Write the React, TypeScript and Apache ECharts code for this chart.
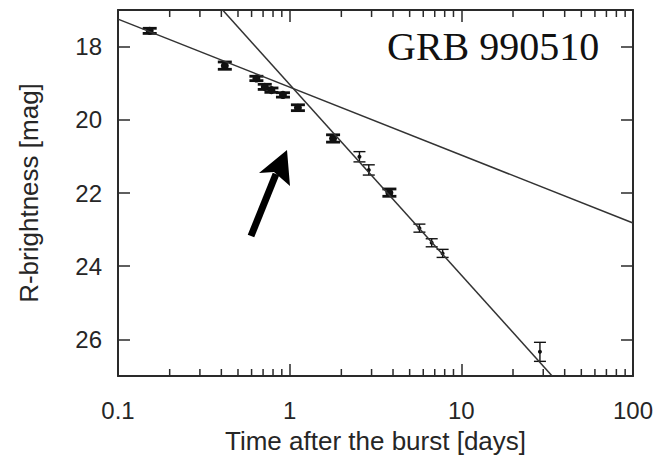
import { useEffect, useRef } from 'react';
import * as echarts from 'echarts';

// ---- data ----
const xMin = 0.1;
const xMax = 100;
const yMin = 17;
const yMax = 27;
const yTickValues = [18, 20, 22, 24, 26];
const xMinorTicks = [0.2, 0.3, 0.4, 0.5, 0.6, 0.7, 0.8, 0.9, 2, 3, 4, 5, 6, 7, 8, 9, 20, 30, 40, 50, 60, 70, 80, 90];

// [time (days), R mag, error (mag)]
const boldPoints = [
  [0.153, 17.57, 0.07],
  [0.419, 18.52, 0.1],
  [0.64, 18.87, 0.06],
  [0.716, 19.1, 0.07],
  [0.783, 19.19, 0.06],
  [0.914, 19.32, 0.06],
  [1.117, 19.67, 0.08],
  [1.79, 20.51, 0.1],
  [3.81, 21.99, 0.1],
];
const thinPoints = [
  [2.55, 21.01, 0.14],
  [2.89, 21.37, 0.14],
  [5.7, 22.96, 0.11],
  [6.72, 23.36, 0.11],
  [7.78, 23.65, 0.11],
  [28.7, 26.34, 0.26],
];

// power-law fits (endpoints)
const fitEarly = [
  [0.1, 17.25],
  [100, 22.82],
];
const fitLate = [
  [0.407, 17.0],
  [33.8, 27.0],
];

const titleText = 'GRB 990510';
const xName = 'Time after the burst [days]';
const yName = 'R-brightness [mag]';

const AX = '#2a2a2a';

function errRender(capHalf: number, lw: number, r: number) {
  return (params: any, api: any) => {
    const x = api.value(0);
    const y = api.value(1);
    const e = api.value(2);
    const p = api.coord([x, y]);
    const t = api.coord([x, y - e]);
    const b = api.coord([x, y + e]);
    const st = { stroke: '#111', lineWidth: lw };
    return {
      type: 'group',
      children: [
        { type: 'line', shape: { x1: p[0], y1: t[1], x2: p[0], y2: b[1] }, style: st },
        { type: 'line', shape: { x1: p[0] - capHalf, y1: t[1], x2: p[0] + capHalf, y2: t[1] }, style: st },
        { type: 'line', shape: { x1: p[0] - capHalf, y1: b[1], x2: p[0] + capHalf, y2: b[1] }, style: st },
        { type: 'circle', shape: { cx: p[0], cy: p[1], r }, style: { fill: '#111' } },
      ],
    };
  };
}

export default function App() {
  const ref = useRef<HTMLDivElement>(null);
  useEffect(() => {
    if (!ref.current) return;
    const chart = echarts.init(ref.current, null, { renderer: 'svg' });
    const axisCommon = {
      type: 'log' as const,
      logBase: 10,
      min: xMin,
      max: xMax,
      axisLine: { show: true, onZero: false, lineStyle: { color: AX, width: 2 } },
      axisTick: { show: true, inside: true, length: 12, lineStyle: { color: AX, width: 1.5 } },
      splitLine: { show: false },
      minorTick: { show: false },
    };
    const yCommon = {
      type: 'value' as const,
      inverse: true,
      min: yMin,
      max: yMax,
      axisLine: { show: true, onZero: false, lineStyle: { color: AX, width: 2 } },
      axisTick: { show: true, inside: true, length: 12, customValues: yTickValues, lineStyle: { color: AX, width: 1.5 } },
      splitLine: { show: false },
    };
    chart.setOption({
      animation: false,
      backgroundColor: '#fff',
      grid: { left: 118, right: 29, top: 10, bottom: 80, containLabel: false, outerBoundsMode: 'none' },
      xAxis: [
        {
          ...axisCommon,
          position: 'bottom',
          axisLabel: {
            color: '#262626',
            fontSize: 24,
            fontFamily: 'Liberation Sans',
            margin: 22,
            formatter: (v: number) => String(v),
          },
          name: xName,
          nameLocation: 'middle',
          nameGap: 52,
          nameTextStyle: { color: '#262626', fontSize: 26, fontFamily: 'Liberation Sans' },
        },
        {
          ...axisCommon,
          position: 'top',
          axisLabel: { show: false },
        },
      ],
      yAxis: [
        {
          ...yCommon,
          position: 'left',
          axisLabel: {
            color: '#262626',
            fontSize: 24,
            fontFamily: 'Liberation Sans',
            margin: 16,
            customValues: yTickValues,
          },
          name: yName,
          nameLocation: 'middle',
          nameGap: 76,
          nameRotate: 90,
          nameTextStyle: { color: '#262626', fontSize: 26, fontFamily: 'Liberation Sans' },
        },
        {
          ...yCommon,
          position: 'right',
          axisLabel: { show: false },
        },
      ],
      series: [
        {
          type: 'line',
          data: fitEarly,
          symbol: 'none',
          lineStyle: { color: '#333', width: 1.5 },
          clip: true,
          silent: true,
        },
        {
          type: 'line',
          data: fitLate,
          symbol: 'none',
          lineStyle: { color: '#333', width: 1.5 },
          clip: true,
          silent: true,
        },
        {
          type: 'custom',
          data: boldPoints,
          encode: { x: 0, y: 1 },
          renderItem: errRender(7, 2.8, 4),
          clip: false,
        },
        {
          type: 'custom',
          data: thinPoints,
          encode: { x: 0, y: 1 },
          renderItem: errRender(6, 1.4, 2),
          clip: false,
        },
        {
          type: 'custom',
          data: xMinorTicks.map((v) => [v]),
          encode: { x: 0 },
          clip: false,
          silent: true,
          renderItem: (params: any, api: any) => {
            const v = api.value(0);
            const b = api.coord([v, yMax]);
            const t = api.coord([v, yMin]);
            const st = { stroke: AX, lineWidth: 1.5 };
            return {
              type: 'group',
              children: [
                { type: 'line', shape: { x1: b[0], y1: b[1], x2: b[0], y2: b[1] - 7 }, style: st },
                { type: 'line', shape: { x1: t[0], y1: t[1], x2: t[0], y2: t[1] + 7 }, style: st },
              ],
            };
          },
        },
      ],
      graphic: [
        {
          type: 'text',
          left: 387,
          top: 26,
          style: {
            text: titleText,
            fontSize: 40,
            fontFamily: 'Liberation Serif',
            fill: '#111',
          },
        },
        {
          type: 'line',
          shape: { x1: 251, y1: 236, x2: 276, y2: 174 },
          style: { stroke: '#000', lineWidth: 7 },
        },
        {
          type: 'polygon',
          shape: { points: [[287, 150], [259, 173], [274, 172], [290, 186]] },
          style: { fill: '#000' },
        },
      ],
    });
    return () => chart.dispose();
  }, []);
  return <div ref={ref} style={{ position: 'fixed', left: 0, top: 0, width: 662, height: 456 }} />;
}
